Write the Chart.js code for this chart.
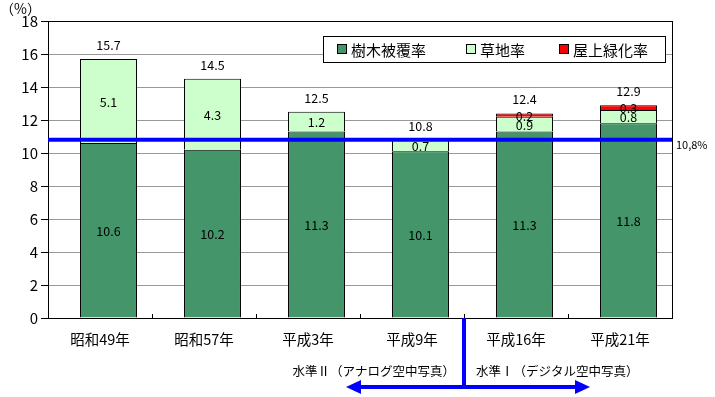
<!DOCTYPE html>
<html>
<head>
<meta charset="utf-8">
<script src="https://cdn.jsdelivr.net/npm/chart.js@4"></script>
<style>
  html, body { margin: 0; padding: 0; background: #fff; }
  #wrap { width: 715px; height: 397px; }
</style>
</head>
<body>
<div id="wrap"><canvas id="greenChart"></canvas></div>
<script>
// データ
const years = ['昭和49年', '昭和57年', '平成3年', '平成9年', '平成16年', '平成21年'];
const treeCover = [10.6, 10.2, 11.3, 10.1, 11.3, 11.8];
const grassland = [5.1, 4.3, 1.2, 0.7, 0.9, 0.8];
const rooftop = [0, 0, 0, 0, 0.2, 0.3];
const totals = [15.7, 14.5, 12.5, 10.8, 12.4, 12.9];
const yTicks = [0, 2, 4, 6, 8, 10, 12, 14, 16, 18];
const refLine = 10.8;
const refLabel = '10,8%';
const seriesNames = ['樹木被覆率', '草地率', '屋上緑化率'];
const seriesColors = ['#44956a', '#ccffcc', '#ff0000'];
const levelTexts = ['水準Ⅱ（アナログ空中写真）', '水準Ⅰ（デジタル空中写真）'];

const FONT = '"Noto Sans CJK JP", "Noto Sans", sans-serif';

// ラベルなどを描くプラグイン
const extras = {
    id: 'extras',
    afterDatasetsDraw(chart) {
        const ctx = chart.ctx;
        const area = chart.chartArea;
        const x = chart.scales.x;
        const y = chart.scales.y;
        ctx.save();

        // 値ラベル（ダミー系列は除く）
        ctx.fillStyle = '#000';
        ctx.textAlign = 'center';
        ctx.textBaseline = 'middle';
        ctx.font = '12.5px ' + FONT;
        chart.data.datasets.forEach((ds, di) => {
            if (ds.stack !== 'main') return;
            const meta = chart.getDatasetMeta(di);
            meta.data.forEach((bar, i) => {
                const v = ds.data[i];
                if (!v) return;
                ctx.fillText(v.toFixed(1), bar.x, (bar.y + bar.base) / 2 + 1);
            });
        });
        // 合計
        const topMeta = chart.getDatasetMeta(1);
        totals.forEach((t, i) => {
            ctx.fillText(t.toFixed(1), topMeta.data[i].x, y.getPixelForValue(t) - 14);
        });

        // 外枠
        ctx.strokeStyle = '#000';
        ctx.lineWidth = 1;
        ctx.strokeRect(area.left + 0.5, area.top + 0.5, area.right - area.left, area.bottom - area.top);

        // x軸の目盛り（内向き）
        for (let i = 1; i < years.length; i++) {
            const px = Math.round((x.getPixelForValue(i - 1) + x.getPixelForValue(i)) / 2) + 0.5;
            ctx.beginPath();
            ctx.moveTo(px, area.bottom);
            ctx.lineTo(px, area.bottom - 4);
            ctx.stroke();
        }

        // 基準線
        const ly = y.getPixelForValue(refLine);
        ctx.strokeStyle = '#0000ff';
        ctx.lineWidth = 4;
        ctx.beginPath();
        ctx.moveTo(area.left, ly);
        ctx.lineTo(area.right, ly);
        ctx.stroke();
        ctx.fillStyle = '#000';
        ctx.textAlign = 'left';
        ctx.font = '11px ' + FONT;
        ctx.fillText(refLabel, area.right + 4, ly + 5);

        // 単位
        ctx.font = '14px ' + FONT;
        ctx.fillText('（%）', 0, 9);

        // 凡例
        const lx = 323, lyTop = 36, lw = 342, lh = 26;
        ctx.fillStyle = '#fff';
        ctx.fillRect(lx, lyTop, lw, lh);
        ctx.strokeStyle = '#000';
        ctx.lineWidth = 1;
        ctx.strokeRect(lx + 0.5, lyTop + 0.5, lw, lh);
        const itemX = [337, 466, 559];
        ctx.font = '15px ' + FONT;
        ctx.textBaseline = 'middle';
        seriesNames.forEach((n, i) => {
            ctx.fillStyle = seriesColors[i];
            ctx.fillRect(itemX[i], lyTop + 8, 10, 10);
            ctx.strokeStyle = '#000';
            ctx.strokeRect(itemX[i] + 0.5, lyTop + 8.5, 9, 9);
            ctx.fillStyle = '#000';
            ctx.fillText(n, itemX[i] + 14, lyTop + 14);
        });

        // 水準の区切り
        const bx = Math.round((x.getPixelForValue(3) + x.getPixelForValue(4)) / 2);
        const ay = 387;
        ctx.strokeStyle = '#0000ff';
        ctx.fillStyle = '#0000ff';
        ctx.lineWidth = 4;
        ctx.beginPath();
        ctx.moveTo(bx, area.bottom);
        ctx.lineTo(bx, ay);
        ctx.moveTo(359, ay);
        ctx.lineTo(577, ay);
        ctx.stroke();
        ctx.beginPath();
        ctx.moveTo(346, ay);
        ctx.lineTo(361, ay - 7);
        ctx.lineTo(361, ay + 7);
        ctx.closePath();
        ctx.fill();
        ctx.beginPath();
        ctx.moveTo(590, ay);
        ctx.lineTo(575, ay - 7);
        ctx.lineTo(575, ay + 7);
        ctx.closePath();
        ctx.fill();

        ctx.fillStyle = '#000';
        ctx.font = '12.5px ' + FONT;
        ctx.textAlign = 'right';
        ctx.fillText(levelTexts[0], bx - 9, 371);
        ctx.textAlign = 'left';
        ctx.fillText(levelTexts[1], bx + 12, 371);

        ctx.restore();
    }
};

// 棒を少し右に寄せるための空の系列（左側のスタック）
const barOpts = { barPercentage: 3.35, categoryPercentage: 0.327 };
const datasets = [{
    label: '',
    data: years.map(() => 0),
    stack: 'pad',
    backgroundColor: 'rgba(0,0,0,0)',
    borderWidth: 0,
    ...barOpts
}].concat([treeCover, grassland, rooftop].map((d, i) => ({
    label: seriesNames[i],
    data: d,
    stack: 'main',
    backgroundColor: seriesColors[i],
    borderColor: '#000',
    borderWidth: 1,
    ...barOpts
})));

const ctx = document.getElementById('greenChart').getContext('2d');
new Chart(ctx, {
    type: 'bar',
    data: { labels: years, datasets: datasets },
    options: {
        responsive: true,
        maintainAspectRatio: false,
        animation: false,
        layout: { padding: { top: 21, right: 43, bottom: 0, left: 0 } },
        plugins: {
            legend: { display: false },
            tooltip: { enabled: false }
        },
        scales: {
            x: {
                stacked: true,
                grid: { display: false, drawTicks: false },
                border: { display: false },
                ticks: { padding: 13, color: '#000', font: { family: FONT, size: 14.5 } },
                afterFit(s) { s.height = 79; }
            },
            y: {
                stacked: true,
                min: 0,
                max: 18,
                afterBuildTicks(s) { s.ticks = yTicks.map(v => ({ value: v })); },
                grid: { color: '#999', tickLength: 7, tickColor: '#000' },
                border: { display: false },
                ticks: { padding: 3, color: '#000', font: { family: FONT, size: 15 } },
                afterFit(s) { s.width = 48; }
            }
        }
    },
    plugins: [extras]
});
</script>
</body>
</html>
